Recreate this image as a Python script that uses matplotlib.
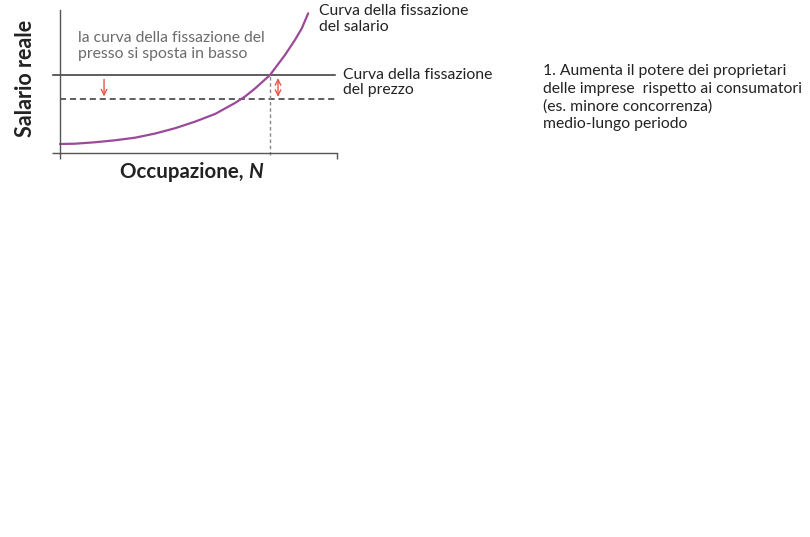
"""Salario reale vs. occupazione: la curva della fissazione del prezzo si sposta in basso."""

import matplotlib
matplotlib.use("Agg")
import matplotlib.pyplot as plt

plt.rcParams["font.family"] = ["Lato", "DejaVu Sans"]

WAGE_N = [0, 5.4, 12.6, 19.9, 27.1, 34.3, 41.5, 48.7, 56.0, 63.2, 66.8, 70.4, 75.8,
          81.2, 84.8, 87.3, 89.6]
WAGE_W = [6.3, 6.5, 7.5, 8.9, 10.7, 13.6, 17.3, 21.9, 27.3, 35.0, 39.5, 45.1, 54.5,
          68.5, 79.0, 87.2, 97.7]

PRICE_OLD = 54.5   # Curva della fissazione del prezzo (vorher)
PRICE_NEW = 37.8   # nach der Verschiebung (gestrichelt)
N_EQ = 75.8        # Gleichgewicht alte Kurve
PRICE_END = 99.3

PURPLE = "#9a4a98"
RED = "#e5574b"
DARK = "#333333"
GRAY_TEXT = "#6b6b6b"
TEXT = "#222222"
FS = 11.3

fig = plt.figure(figsize=(8.1, 5.37), dpi=100)
ax = fig.add_axes([60 / 810, 1 - 153 / 537, 277 / 810, 143 / 537])
ax.set_xlim(0, 100)
ax.set_ylim(0, 100)

for side in ("top", "right"):
    ax.spines[side].set_visible(False)
for side in ("left", "bottom"):
    ax.spines[side].set_color("#555555")
    ax.spines[side].set_linewidth(1.0)
ax.set_xticks([0, 100])
ax.set_yticks([0])
ax.set_xticklabels([])
ax.set_yticklabels([])
ax.tick_params(axis="x", direction="out", length=4, width=1, color="#555555")
ax.tick_params(axis="y", direction="out", length=5.5, width=1, color="#555555")

# Preis-Kurven
ax.plot([-2.5, PRICE_END], [PRICE_OLD, PRICE_OLD], color=DARK, lw=1.1, clip_on=False)
ax.plot([0, PRICE_END], [PRICE_NEW, PRICE_NEW], color=DARK, lw=1.1, ls=(0, (4, 2.5)), clip_on=False)
ax.plot([N_EQ, N_EQ], [-1.5, PRICE_OLD], color="#888888", lw=1.0, ls=(0, (2.5, 2)), clip_on=False)

# Lohnkurve
ax.plot(WAGE_N, WAGE_W, color=PURPLE, lw=1.6, clip_on=False,
        solid_capstyle="round", solid_joinstyle="round")

# Pfeile
ax.annotate("", xy=(15.9, 39.5), xytext=(15.9, 51.5),
            arrowprops=dict(arrowstyle="->", color=RED, lw=1.0, shrinkA=0, shrinkB=0,
                            mutation_scale=10))
ax.annotate("", xy=(78.7, 39.2), xytext=(78.7, 52.4),
            arrowprops=dict(arrowstyle="<->", color=RED, lw=1.0, shrinkA=0, shrinkB=0,
                            mutation_scale=10))

# Beschriftungen
ax.text(6.5, 85.3, "la curva della fissazione del\npresso si sposta in basso", color=GRAY_TEXT,
        fontsize=FS, va="top", ha="left", linespacing=1.18)
ax.text(93.5, 104.3, "Curva della fissazione\ndel salario", color=TEXT,
        fontsize=FS, va="top", ha="left", linespacing=1.15, clip_on=False)
ax.text(102.2, 49.5, "Curva della fissazione\ndel prezzo", color=TEXT,
        fontsize=FS, va="center", ha="left", linespacing=1.12, clip_on=False)

ax.text(-12.6, 52.4, "Salario reale", rotation=90, fontsize=15.5, fontweight="bold",
        color=TEXT, ha="center", va="center", clip_on=False)
occ = ax.text(21.7, -6.5, "Occupazione, ", fontsize=14.8, fontweight="bold", color=TEXT,
              ha="left", va="top", clip_on=False)
ax.annotate("N", xy=(1, 0), xycoords=occ, fontsize=14.8, fontweight="bold", fontstyle="italic",
            color=TEXT, ha="left", va="bottom", annotation_clip=False)

fig.text(543 / 810, 1 - 64 / 537,
         "1. Aumenta il potere dei proprietari\ndelle imprese  rispetto ai consumatori\n"
         "(es. minore concorrenza)\nmedio-lungo periodo",
         fontsize=FS, color=TEXT, va="top", ha="left", linespacing=1.33)

fig.savefig("out.png", dpi=100)
